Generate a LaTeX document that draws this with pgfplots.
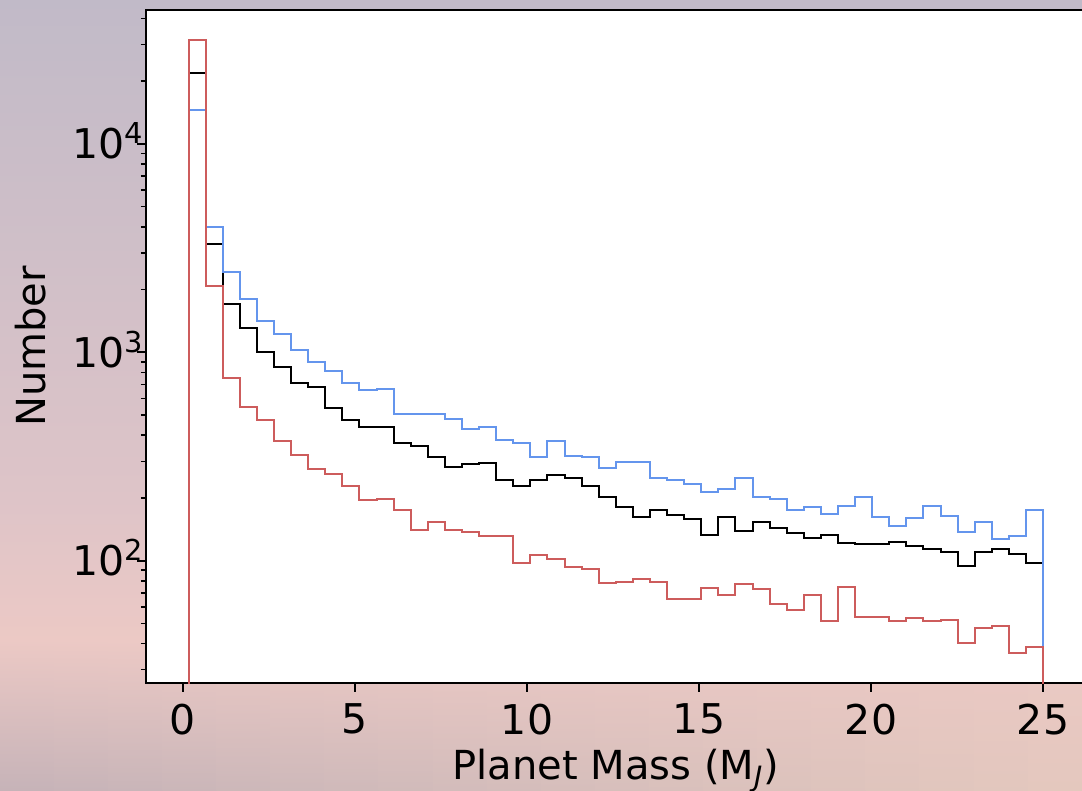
\documentclass[border=0pt]{standalone}
\usepackage{pgfplots}
\pgfplotsset{compat=1.18}
\usepackage{pgfplotstable}
\usepackage{fontspec}
\setmainfont{DejaVu Sans}
\definecolor{cblue}{RGB}{100,149,237}
\definecolor{ired}{RGB}{205,92,92}
\definecolor{bgA}{RGB}{193,186,200}
\definecolor{bgB}{RGB}{222,196,200}
\definecolor{bgC}{RGB}{236,201,197}
\definecolor{bgD}{RGB}{198,179,184}
\definecolor{bgE}{RGB}{228,200,190}
\newcommand{\sups}[1]{\raisebox{7.6pt}{\fontsize{14.4}{16}\selectfont #1}}

\pgfplotstableread{
x       blue   black  red
0.16    1      1      1
0.16    14500  21970  31500
0.6568  3990   3311   2088
1.1536  2440   1710   750
1.6504  1800   1306   546
2.1472  1419   1004   471
2.644   1226   850    375
3.1408  1023   712    321
3.6376  894    678    276
4.1344  813    542    262
4.6312  710    471    229
5.128   659    437    196
5.6248  669    437    198
6.1216  507    367    175
6.6184  507    355    141
7.1152  503    314    153
7.612   478    281    140
8.1088  427    291    138
8.6056  437    294    132
9.1024  378    244    132
9.5992  369    227    97.7
10.096  314    245    106
10.5928 374    259    102
11.0896 318    248    93
11.5864 314    227    91.4
12.0832 278    203    78.3
12.58   299    180    79.3
13.0768 297    162    81.7
13.5736 248    175    79.3
14.0704 244    165    65.2
14.5672 233    158    65.2
15.064  214    133    73.8
15.5608 220    162    68.1
16.0576 248    139    77.5
16.5544 202    153    73.3
17.0512 198    144    62.1
17.548  175    136    58.1
18.0448 180    129    68.4
18.5416 167    133    51.3
19.0384 182    121    74.4
19.5352 203    120    53.8
20.032  162    120    53.8
20.5288 147    123    51.3
21.0256 161    117    52.8
21.5224 182    114    51.3
22.0192 164    110    52.0
22.516  137    94.2   40.1
23.0128 153    110    47.6
23.5096 127    114    48.7
24.0064 131    108    36.1
24.5032 175    97     38.6
25      175    97     38.6
25      1      1      1
}\histdata

\begin{document}
\begin{tikzpicture}[font=\fontsize{20}{24}\selectfont]
\shade[top color=bgA,bottom color=bgB] (-72.9pt,91.65pt) rectangle (468.1pt,341.65pt);
\shade[top color=bgB,bottom color=bgC] (-72.9pt,21.65pt) rectangle (468.1pt,91.7pt);
\foreach \i in {0,...,19} {
  \pgfmathsetmacro\xa{-72.9+\i*27.05}
  \pgfmathsetmacro\xb{\xa+27.6}
  \pgfmathtruncatemacro\p{\i*100/19}
  \shade[top color=bgC, bottom color=bgE!\p!bgD] (\xa pt,-53.85pt) rectangle (\xb pt,21.7pt);
}
\begin{axis}[
  scale only axis,
  width=470pt, height=336.9pt,
  xmin=-1.082, xmax=26.242,
  ymode=log, ymin=25.8, ymax=44150,
  axis background/.style={fill=white},
  axis line style={line width=1pt, black},
  tick align=outside, tick pos=left,
  xtick={0,5,10,15,20,25},
  ytick={100,1000,10000},
  yticklabels={10\sups{2},10\sups{3},10\sups{4}},
  minor ytick={30,40,50,60,70,80,90,200,300,400,500,600,700,800,900,2000,3000,4000,5000,6000,7000,8000,9000,20000,30000,40000},
  major tick length=4.2pt, minor tick length=2.5pt,
  every major tick/.append style={line width=1pt, black},
  every minor tick/.append style={line width=0.75pt, black},
  /pgf/number format/assume math mode=true,
  tick label style={font=\fontsize{20.5}{24}\selectfont},
  xticklabel style={anchor=north, inner sep=0pt, yshift=-6pt},
  yticklabel style={anchor=base east, inner sep=0pt, xshift=3pt, yshift=-7.47pt},
  label style={font=\fontsize{20}{24}\selectfont},
  xlabel={Planet Mass (M\textsubscript{\textit{J}})},
  ylabel={Number},
  xlabel style={at={(axis description cs:0.5,-0.1435)}, anchor=base},
  ylabel style={at={(axis description cs:-0.10723,0.5)}, anchor=base},
  every axis plot/.append style={line width=1pt, const plot mark left, mark=none},
]
\addplot[black] table[x=x, y=black] {\histdata};
\addplot[cblue] table[x=x, y=blue] {\histdata};
\addplot[ired] table[x=x, y=red] {\histdata};
\end{axis}
\pgfresetboundingbox
\useasboundingbox (-72.9pt,-53.85pt) rectangle (468.1pt,341.65pt);
\end{tikzpicture}
\end{document}
